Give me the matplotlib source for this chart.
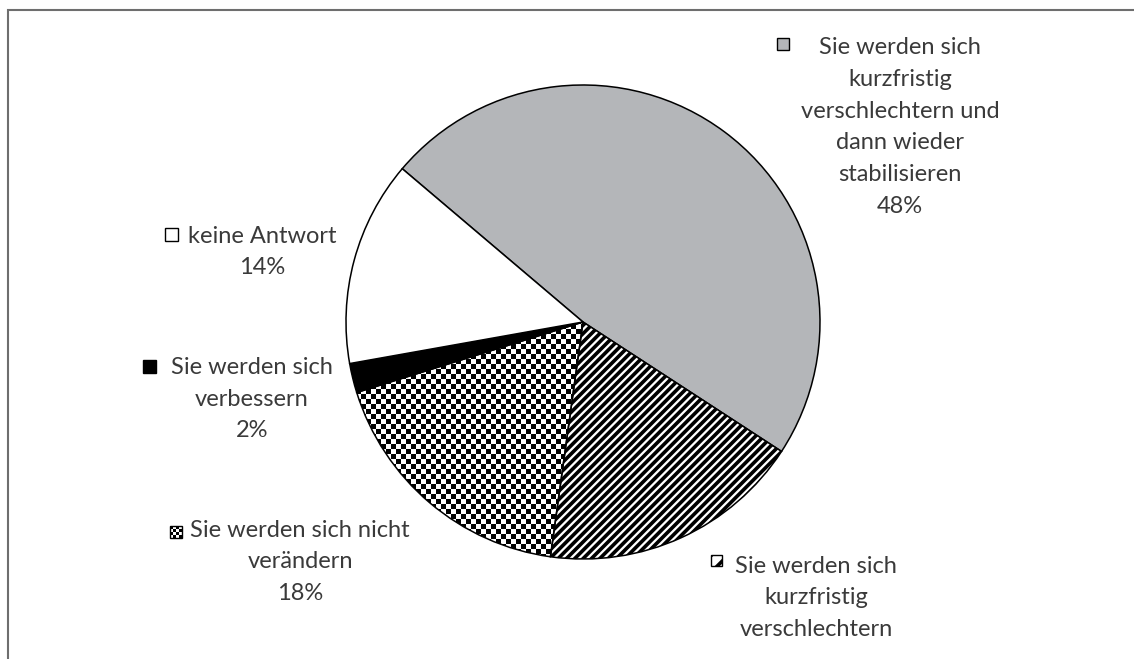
import numpy as np
import matplotlib
matplotlib.use("Agg")
import matplotlib.pyplot as plt
from matplotlib.patches import Rectangle

W, H = 1134, 659

# shares as labelled in the chart, clockwise from the upper left
labels = [
    "Sie werden sich\nkurzfristig\nverschlechtern und\ndann wieder\nstabilisieren\n48%",
    "Sie werden sich\nkurzfristig\nverschlechtern",
    "Sie werden sich nicht\nverändern\n18%",
    "Sie werden sich\nverbessern\n2%",
    "keine Antwort\n14%",
]
values = [48, 18, 18, 2, 14]

GRAY = "#b4b6b9"
TEXT = "#3a3a3a"

# label block centres and legend squares, in pixels from the top left
label_pos = [(900, 127), (816, 598), (300, 562), (252, 399), (262, 252)]
marker_pos = [(777, 38, 12), (711, 555, 11), (170, 526, 12), (143, 360, 13), (165, 228, 13)]

plt.rcParams["hatch.linewidth"] = 2.6
plt.rcParams["font.family"] = ["Lato", "DejaVu Sans"]


def checker(n):
    return np.add.outer(np.arange(n), np.arange(n)) % 2


def main():
    fig = plt.figure(figsize=(W / 100, H / 100), dpi=100)
    ax = fig.add_axes([0, 0, 1, 1])

    cx, cy, r = 583, H - 322, 237
    wedges, _ = ax.pie(
        values,
        colors=[GRAY, "white", "white", "black", "white"],
        startangle=139.7,
        counterclock=False,
        center=(cx, cy),
        radius=r,
        wedgeprops=dict(edgecolor="black", linewidth=1.1),
    )
    wedges[1].set_hatch("////")
    wedges[2].set_facecolor("none")

    # checkerboard fill for the "nicht verändern" slice
    cell = 5
    n = int(2 * r / cell) + 2
    im = ax.imshow(
        checker(n), cmap="gray", interpolation="nearest",
        extent=(cx - r, cx - r + n * cell, cy - r, cy - r + n * cell),
        zorder=0.5,
    )
    im.set_clip_path(wedges[2])

    for text, (x, y) in zip(labels, label_pos):
        ax.text(x, H - y, text, ha="center", va="center", fontsize=17,
                color=TEXT, linespacing=1.63)

    # small legend squares in front of the labels
    faces = [GRAY, "white", None, "black", "white"]
    for i, (x, y, s) in enumerate(marker_pos):
        if faces[i] is None:
            ax.imshow(checker(4), cmap="gray", interpolation="nearest",
                      extent=(x, x + s, H - y - s, H - y), zorder=2)
            ax.add_patch(Rectangle((x, H - y - s), s, s, facecolor="none",
                                   edgecolor="black", linewidth=1.0, zorder=3))
            continue
        rect = Rectangle((x, H - y - s), s, s, facecolor=faces[i],
                         edgecolor="black", linewidth=1.0, zorder=3)
        if i == 1:
            rect.set_hatch("//")
        ax.add_patch(rect)

    # frame line on the left and top
    ax.plot([8, 8, W], [0, H - 10, H - 10], color="#6e6e6e", linewidth=1.5,
            solid_joinstyle="miter", clip_on=False)

    ax.set_xlim(0, W)
    ax.set_ylim(0, H)
    ax.set_aspect("auto")
    ax.axis("off")

    fig.savefig("out.png", dpi=100, facecolor="white")
    plt.close(fig)


if __name__ == "__main__":
    main()
